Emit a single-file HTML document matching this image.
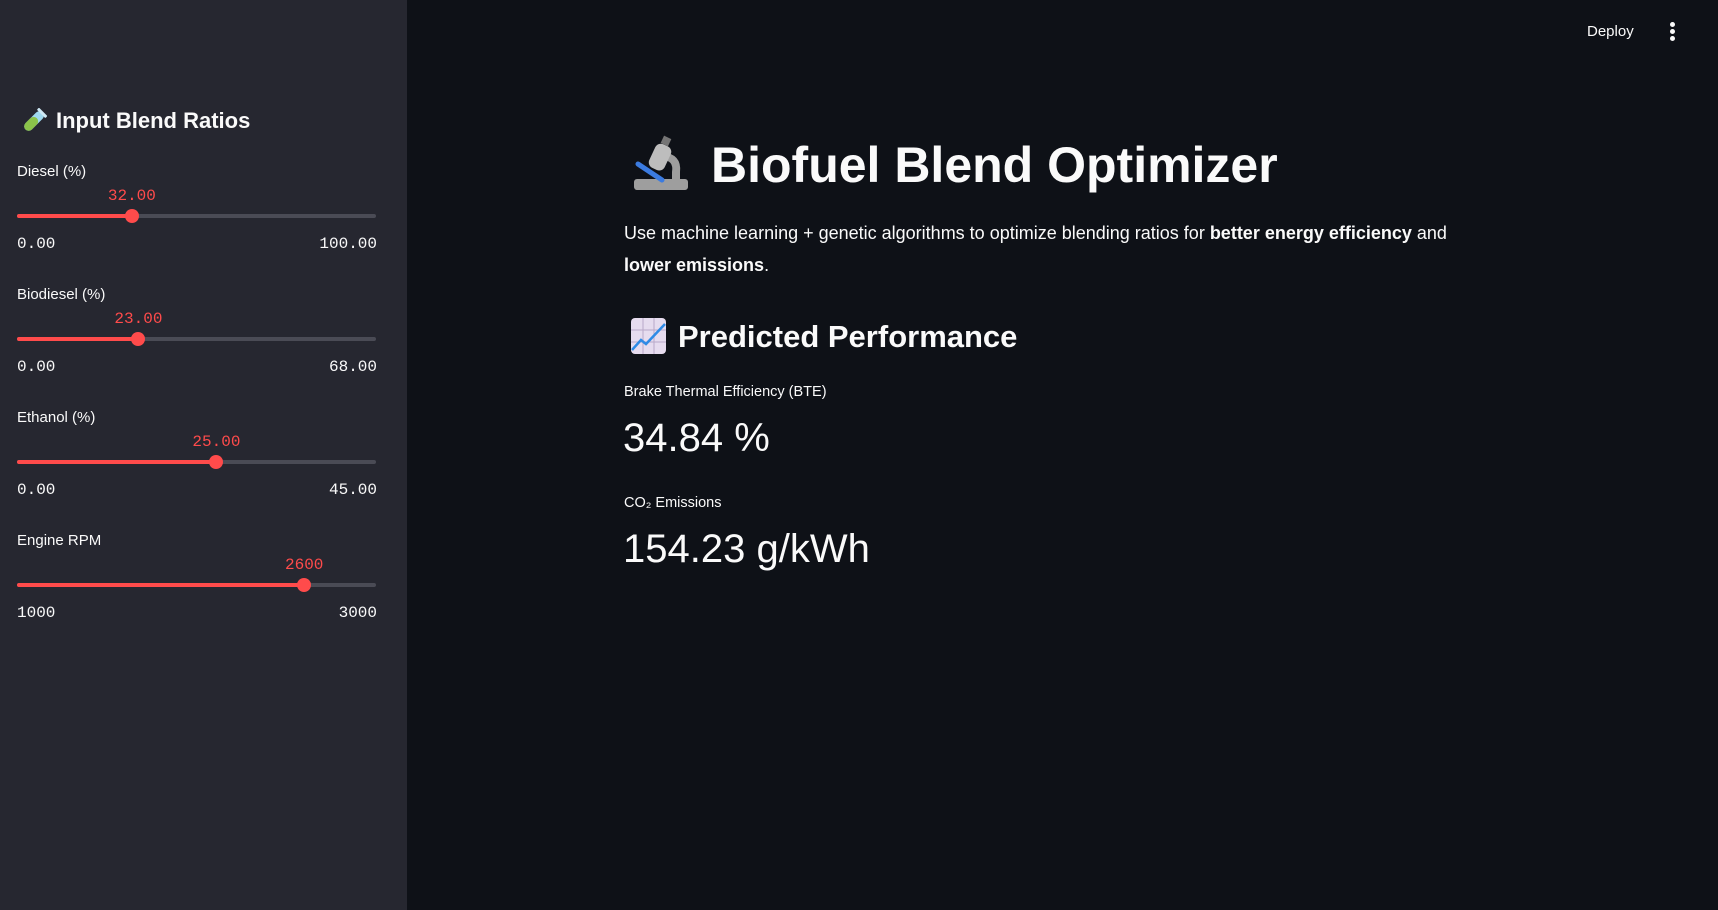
<!DOCTYPE html>
<html><head><meta charset="utf-8"><style>
*{margin:0;padding:0;box-sizing:border-box}
body{width:1718px;height:910px;background:#0e1117;font-family:"Liberation Sans",sans-serif;color:#fafafa;position:relative;overflow:hidden}
.abs{position:absolute;white-space:nowrap}
#sidebar{position:absolute;left:0;top:0;width:407px;height:910px;background:#262730}
.lbl{font-size:15px;color:#fafafa}
.val{font-family:"Liberation Mono",monospace;font-size:16px;color:#ff4b4b;transform:translateX(-50%)}
.mm{font-family:"Liberation Mono",monospace;font-size:16px;color:#fafafa}
.track{position:absolute;left:17px;width:359px;height:4px;border-radius:2px;background:#4a4b55}
.fill{position:absolute;left:0;top:0;height:4px;border-radius:2px;background:#ff4b4b}
.thumb{position:absolute;top:-5px;width:14px;height:14px;margin-left:-7px;border-radius:50%;background:#ff4b4b}
</style></head><body>
<div id="sidebar">
  <svg class="abs" style="left:21px;top:108px" width="26" height="26" viewBox="0 0 26 26">
    <g transform="rotate(45 13 13)"><rect x="8.5" y="1" width="9" height="24" rx="4.5" fill="#9fd8ef"/><rect x="8.5" y="9" width="9" height="16" rx="4.5" fill="#8bc34a"/><rect x="7" y="0" width="12" height="3" rx="1" fill="#cfe9f5"/></g>
  </svg>
  <div class="abs" style="left:56px;top:108px;font-size:22px;font-weight:bold">Input Blend Ratios</div>
  <div id="sliders"></div>
</div>

<div class="abs" style="left:1587px;top:23px;font-size:15px">Deploy</div>
<div class="abs" style="left:1670px;top:22px;width:6px;height:20px">
  <div style="position:absolute;left:0;top:0;width:5px;height:5px;border-radius:50%;background:#fafafa"></div>
  <div style="position:absolute;left:0;top:7px;width:5px;height:5px;border-radius:50%;background:#fafafa"></div>
  <div style="position:absolute;left:0;top:14px;width:5px;height:5px;border-radius:50%;background:#fafafa"></div>
</div>

<svg class="abs" style="left:632px;top:134px" width="60" height="58" viewBox="0 0 60 58">
  <rect x="2" y="45" width="54" height="11" rx="3" fill="#9e9e9e"/>
  <path d="M30 18 Q50 20 48 38 L48 46 L40 46 L40 38 Q42 26 30 26Z" fill="#9e9e9e"/>
  <rect x="20" y="10" width="17" height="26" rx="6" fill="#bdbdbd" transform="rotate(25 28 22)"/>
  <rect x="30" y="3" width="8" height="8" fill="#757575" transform="rotate(25 34 7)"/>
  <line x1="6" y1="30" x2="30" y2="46" stroke="#3b7be0" stroke-width="5" stroke-linecap="round"/>
</svg>
<div class="abs" style="left:711px;top:136px;font-size:50px;font-weight:bold">Biofuel Blend Optimizer</div>

<div class="abs" style="left:624px;top:217px;font-size:18px;line-height:32px;white-space:normal;width:1000px">Use machine learning + genetic algorithms to optimize blending ratios for <b>better energy efficiency</b> and<br><b>lower emissions</b>.</div>

<svg class="abs" style="left:631px;top:318px" width="35" height="36" viewBox="0 0 35 36">
  <rect x="0" y="0" width="35" height="36" rx="4" fill="#e6dcef"/>
  <g stroke="#b8a9c9" stroke-width="1"><line x1="12" y1="0" x2="12" y2="36"/><line x1="23" y1="0" x2="23" y2="36"/><line x1="0" y1="12" x2="35" y2="12"/><line x1="0" y1="24" x2="35" y2="24"/></g>
  <polyline points="1,32 10,22 15,26 34,6" fill="none" stroke="#2f8be6" stroke-width="2.5"/>
</svg>
<div class="abs" style="left:678px;top:319px;font-size:31px;font-weight:bold">Predicted Performance</div>

<div class="abs" style="left:624px;top:384px;font-size:14.5px">Brake Thermal Efficiency (BTE)</div>
<div class="abs" style="left:623px;top:416px;font-size:40px">34.84 %</div>
<div class="abs" style="left:624px;top:495px;font-size:14.5px">CO₂ Emissions</div>
<div class="abs" style="left:623px;top:527px;font-size:40px">154.23 g/kWh</div>

<script>
const sliderLabels=["Diesel (%)","Biodiesel (%)","Ethanol (%)","Engine RPM"];
const sliderMins=[0,0,0,1000];
const sliderMaxs=[100,68,45,3000];
const sliderValues=[32,23,25,2600];
const sliderDecimals=[2,2,2,0];
const names=["diesel","biodiesel","ethanol","engine-rpm"];
const host=document.getElementById('sliders');
sliderLabels.forEach((lab,i)=>{
  const y0=161+i*123;
  const frac=(sliderValues[i]-sliderMins[i])/(sliderMaxs[i]-sliderMins[i]);
  const tx=17+359*frac;
  const l=document.createElement('div');l.className='abs lbl';l.style.left='17px';l.style.top=(y0+2)+'px';l.textContent=lab;
  
  
  host.appendChild(l);
  const v=document.createElement('div');v.className='abs val';v.style.left=tx+'px';v.style.top=(y0+26)+'px';v.textContent=sliderValues[i].toFixed(sliderDecimals[i]);
  
  
  host.appendChild(v);
  const t=document.createElement('div');t.className='track';t.style.top=(y0+53)+'px';
  
  
  const f=document.createElement('div');f.className='fill';f.style.width=(359*frac)+'px';
  t.appendChild(f);
  const th=document.createElement('div');th.className='thumb';th.style.left=(359*frac)+'px';
  
  
  t.appendChild(th);
  host.appendChild(t);
  const mn=document.createElement('div');mn.className='abs mm';mn.style.left='17px';mn.style.top=(y0+74)+'px';mn.textContent=sliderMins[i].toFixed(sliderDecimals[i]);
  
  
  host.appendChild(mn);
  const mx=document.createElement('div');mx.className='abs mm';mx.style.right=(407-377)+'px';mx.style.top=(y0+74)+'px';mx.textContent=sliderMaxs[i].toFixed(sliderDecimals[i]);
  
  
  host.appendChild(mx);
});
</script>
</body></html>
